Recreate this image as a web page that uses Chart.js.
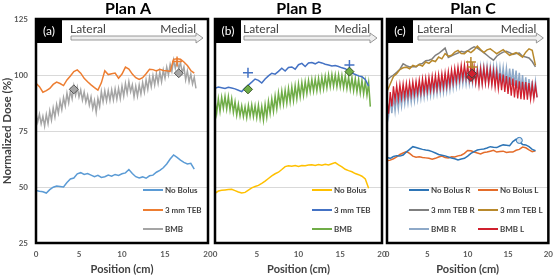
<!DOCTYPE html>
<html>
<head>
<meta charset="utf-8">
<script src="https://cdn.jsdelivr.net/npm/chart.js@4"></script>
<style>
  html, body { margin: 0; padding: 0; background: #fff; }
  #wrap { position: relative; width: 560px; height: 276px; }
  #wrap canvas { position: absolute; left: 0; top: 0; }
</style>
</head>
<body>
<div id="wrap">
  <canvas id="chartA" width="560" height="276"></canvas>
  <canvas id="chartB" width="560" height="276"></canvas>
  <canvas id="chartC" width="560" height="276"></canvas>
</div>
<script>
// positions (cm)
const pos04 = [0,0.4,0.8,1.2,1.6,2,2.4,2.8,3.2,3.6,4,4.4,4.8,5.2,5.6,6,6.4,6.8,7.2,7.6,8,8.4,8.8,9.2,9.6,10,10.4,10.8,11.2,11.6,12,12.4,12.8,13.2,13.6,14,14.4,14.8,15.2,15.6,16,16.4,16.8,17.2,17.6,18,18.4];
const pos02 = [0,0.2,0.4,0.6,0.8,1,1.2,1.4,1.6,1.8,2,2.2,2.4,2.6,2.8,3,3.2,3.4,3.6,3.8,4,4.2,4.4,4.6,4.8,5,5.2,5.4,5.6,5.8,6,6.2,6.4,6.6,6.8,7,7.2,7.4,7.6,7.8,8,8.2,8.4,8.6,8.8,9,9.2,9.4,9.6,9.8,10,10.2,10.4,10.6,10.8,11,11.2,11.4,11.6,11.8,12,12.2,12.4,12.6,12.8,13,13.2,13.4,13.6,13.8,14,14.2,14.4,14.6,14.8,15,15.2,15.4,15.6,15.8,16,16.2,16.4,16.6,16.8,17,17.2,17.4,17.6,17.8,18,18.2,18.4,18.6];
const xTicks = [0, 5, 10, 15, 20];
const yTicks = [25, 50, 75, 100, 125];

// Plan A
const aNoBolus = [48.4,48.1,47.9,47.3,48.8,49.9,50.4,50.2,50.0,52.0,53.6,54.0,55.9,56.4,55.6,56.0,55.3,54.6,55.2,54.3,54.6,55.3,54.8,55.6,55.2,55.9,56.3,57.8,56.0,54.6,54.0,54.5,53.9,55.0,55.3,56.6,57.4,58.6,60.3,62.5,64.3,63.2,62.0,61.0,60.3,60.6,58.0];
const aTeb = [96.3,94.8,92.3,93.0,94.0,95.8,96.8,96.2,95.3,97.8,99.6,101.5,102.3,100.8,98.5,97.0,95.6,94.4,93.3,96.5,101.9,100.2,100.6,100.9,98.6,100.4,103.5,102.6,100.4,98.8,98.0,98.8,100.6,102.6,102.4,101.8,102.5,102.0,101.9,101.6,107.0,107.3,107.0,105.8,104.2,102.0,100.8];
const aBmb = [82.9,79.0,82.5,78.2,81.6,77.2,82.4,78.3,84.0,79.9,85.3,81.2,86.8,83.0,88.4,84.6,89.9,86.2,91.8,87.6,93.0,89.4,95.0,91.0,94.6,90.2,93.3,88.8,92.4,87.9,91.0,86.6,90.2,85.0,88.6,83.4,89.5,86.0,92.6,88.1,92.9,88.4,93.0,88.6,93.4,88.9,93.8,89.2,94.0,89.5,95.0,90.6,96.2,91.8,97.0,92.6,95.6,90.3,95.0,90.6,95.6,91.5,96.6,92.4,97.8,93.6,99.0,94.8,99.8,95.6,100.6,96.3,101.4,97.0,102.2,98.6,103.5,100.0,104.8,101.6,106.7,103.0,106.4,102.8,105.6,101.0,103.6,97.8,101.8,97.0,100.4,96.0,99.0,94.0];
const aDiamondX = [4.4, 16.6], aDiamondY = [93.6, 100.8];
const aCrossX = [16.4], aCrossY = [106.0];

// Plan B
const bNoBolus = [47.2,48.2,48.5,48.7,48.9,49.0,48.4,47.8,47.3,47.6,48.6,49.6,50.2,50.7,51.6,52.6,53.8,55.0,55.9,56.6,57.8,59.1,59.5,59.3,59.6,59.2,59.6,59.5,59.8,59.9,59.6,60.0,59.7,60.1,59.8,60.4,60.9,59.9,59.0,57.9,57.3,56.8,56.0,55.5,54.8,53.6,49.4];
const bTeb = [94.1,94.6,94.3,94.0,94.5,94.2,93.8,93.2,92.6,94.2,95.5,96.8,98.2,97.6,96.4,98.2,99.6,100.8,100.4,101.6,103.0,101.8,103.4,103.6,102.6,104.6,105.2,103.8,105.4,105.6,105.0,105.8,105.4,104.8,104.5,104.0,104.2,103.8,103.2,102.8,101.8,101.0,100.2,99.6,99.2,98.0,95.0];
const bBmb = [88.8,82.9,89.4,83.8,90.0,85.1,90.4,84.8,90.3,84.4,89.4,83.3,88.0,82.1,86.9,81.8,86.2,81.4,85.8,81.0,86.4,81.6,86.6,81.4,86.2,81.0,86.5,80.6,85.9,79.9,86.8,81.2,88.2,82.9,89.4,83.8,90.6,85.0,92.0,86.6,92.8,87.0,93.2,87.5,94.0,88.1,94.6,88.6,95.2,89.4,96.0,90.3,96.6,90.9,97.0,91.8,97.6,92.6,98.0,92.8,98.2,93.0,98.5,93.3,99.0,93.8,99.4,94.3,100.0,94.8,100.2,95.0,100.0,94.8,100.1,94.8,99.8,94.4,99.6,94.0,99.0,93.6,98.8,93.0,98.4,92.6,98.0,92.0,97.6,91.6,97.2,91.0,96.4,85.9];
const bDiamondX = [3.95, 16.1], bDiamondY = [93.6, 101.5];
const bCrossX = [3.95, 16.1], bCrossY = [101.0, 104.5];

// Plan C
const cNoBolusR = [63.2,62.8,63.6,64.0,63.8,64.3,65.6,66.8,68.0,67.6,67.2,66.8,66.5,66.3,65.8,65.2,64.5,64.2,63.9,63.4,62.9,62.6,62.1,62.5,62.8,63.8,65.0,65.8,66.5,66.8,67.0,67.4,68.0,67.7,67.6,68.3,68.8,68.6,68.4,70.3,71.3,70.2,69.0,68.8,68.0,66.8,66.2];
const cNoBolusL = [61.7,62.0,62.6,63.5,64.5,65.2,65.8,65.0,63.8,63.3,63.5,63.2,63.0,62.8,62.4,62.8,63.4,63.8,63.2,63.0,63.5,63.4,63.9,64.2,65.0,66.3,66.2,65.6,65.2,64.8,65.4,65.6,66.0,66.4,65.6,65.8,66.0,65.4,65.6,65.6,66.4,66.8,67.8,67.5,66.6,65.8,66.2];
const cTebR = [97.8,99.0,100.0,101.2,102.6,105.0,104.2,103.6,103.8,103.6,104.8,105.2,106.4,106.6,107.2,108.8,109.6,110.8,112.0,107.8,108.6,109.2,109.8,110.6,110.2,110.8,111.8,112.6,112.0,111.0,110.0,108.8,107.6,106.6,108.4,109.4,110.2,110.6,110.0,109.2,109.6,109.8,108.4,108.0,107.6,106.0,103.6];
const cTebL = [92.6,96.0,99.4,100.6,102.4,103.2,103.5,102.8,104.3,103.8,104.6,104.0,105.8,105.2,106.5,106.0,108.0,107.2,109.5,108.4,108.8,110.2,111.0,109.6,109.5,110.8,110.0,111.2,112.9,111.4,110.0,111.2,111.7,110.6,109.5,110.4,111.3,110.0,108.8,109.4,110.0,109.0,108.0,110.2,111.7,111.0,104.3];
const cBmbR = [88.5,82.0,89.8,83.0,90.6,84.0,91.2,85.0,92.0,86.2,93.0,87.2,93.4,87.6,93.8,88.0,94.4,88.6,95.0,89.2,95.6,89.8,96.1,90.2,96.4,90.6,96.8,91.0,97.2,91.4,97.6,91.8,98.0,92.2,98.5,92.5,99.0,93.0,99.6,93.6,100.2,94.4,100.8,95.0,101.4,95.6,102.1,96.1,102.0,96.0,102.0,96.2,102.2,96.4,102.6,96.6,103.0,96.8,103.6,96.9,103.6,97.0,103.8,97.0,103.6,96.9,103.6,96.9,103.6,96.8,103.4,96.6,103.2,96.2,103.0,95.8,102.9,95.6,102.8,95.2,102.0,94.0,101.0,92.8,100.0,92.0,99.0,91.0,98.2,90.4,97.4,89.6,96.9,90.0];
const cBmbL = [89.0,82.7,92.4,86.0,95.0,88.7,95.4,89.2,95.8,89.8,96.1,90.2,96.3,90.6,96.6,91.0,97.0,91.4,97.2,91.8,97.8,92.0,98.4,92.4,98.6,92.8,99.0,93.2,99.5,93.5,99.8,93.8,100.2,94.2,100.6,94.6,101.0,95.0,101.6,95.6,102.4,96.5,103.0,97.2,103.6,97.8,104.3,98.4,104.6,98.6,104.4,98.0,104.3,97.6,103.4,96.4,102.2,95.4,102.6,95.8,103.0,96.2,102.8,96.0,102.4,95.4,101.8,94.6,101.3,93.9,100.8,93.2,100.2,92.4,99.5,91.5,99.0,90.8,98.4,90.0,97.6,89.5,97.2,89.2,97.0,89.0,96.9,89.0,96.4,89.3,95.8,89.5,95.4,90.0];
const cDiamondX = [10.4, 10.55], cDiamondY = [99.1, 100.6];
const cCrossX = [10.4, 10.6], cCrossY = [105.8, 103.6];
const cCircleX = [16.4], cCircleY = [70.8];

const pts = (xs, ys) => ys.map((y, i) => ({ x: xs[i], y: y }));

function line(label, xs, ys, color, order, width) {
  return { label, data: pts(xs, ys), borderColor: color, backgroundColor: color,
           borderWidth: width || 1.5, pointRadius: 0, tension: 0, order };
}

function mark(xs, ys, style, fill, stroke, r) {
  return { marker: true, data: pts(xs, ys), showLine: false, pointStyle: style,
           pointRadius: r, pointBackgroundColor: fill, pointBorderColor: stroke,
           pointBorderWidth: style === 'cross' ? 1.5 : 1, order: 0 };
}

// frame, tag box, lateral/medial arrow, title and legend
const panelDecor = {
  id: 'panelDecor',
  afterDatasetsDraw(chart, args, o) {
    const { ctx, chartArea: a } = chart;
    ctx.save();

    const items = chart.data.datasets.filter(d => !d.marker);
    ctx.font = 'bold 8px Lato';
    ctx.textAlign = 'left';
    ctx.textBaseline = 'middle';
    items.forEach((d, i) => {
      const x = a.left + o.legend[i][0], y = a.top + o.legend[i][1];
      ctx.strokeStyle = d.borderColor;
      ctx.lineWidth = 2;
      ctx.beginPath();
      ctx.moveTo(x, y);
      ctx.lineTo(x + 20, y);
      ctx.stroke();
      ctx.fillStyle = '#404040';
      ctx.fillText(d.label, x + 22, y + 0.5);
    });

    ctx.lineWidth = 2.5;
    ctx.strokeStyle = '#000';
    ctx.strokeRect(a.left, a.top, a.right - a.left, a.bottom - a.top);

    ctx.fillStyle = '#000';
    ctx.fillRect(a.left, a.top, 26, 24);
    ctx.fillStyle = '#fff';
    ctx.font = '12px Lato';
    ctx.textAlign = 'center';
    ctx.fillText(o.tag, a.left + 13, a.top + 12);

    const x0 = a.left + o.latOff + 1, x1 = a.right - 12, x2 = a.right - 5, yc = a.top + 19;
    ctx.beginPath();
    ctx.moveTo(x0, yc - 2);
    ctx.lineTo(x1, yc - 2);
    ctx.lineTo(x1, yc - 5);
    ctx.lineTo(x2, yc);
    ctx.lineTo(x1, yc + 5);
    ctx.lineTo(x1, yc + 2);
    ctx.lineTo(x0, yc + 2);
    ctx.closePath();
    ctx.fillStyle = '#eeeeee';
    ctx.fill();
    ctx.strokeStyle = '#808080';
    ctx.lineWidth = 0.8;
    ctx.stroke();

    ctx.fillStyle = '#404040';
    ctx.font = '12px Lato';
    ctx.textBaseline = 'alphabetic';
    ctx.textAlign = 'left';
    ctx.fillText('Lateral', a.left + o.latOff, a.top + 14);
    ctx.textAlign = 'right';
    ctx.fillText('Medial', a.right - 12, a.top + 14);

    ctx.font = 'bold 16px Lato';
    ctx.fillStyle = '#000';
    ctx.textAlign = 'center';
    ctx.fillText(o.title, o.titleX, 14);
    ctx.restore();
  }
};

function panel(id, datasets, p) {
  const tickFont = { family: 'Lato', size: 8, weight: 'bold' };
  new Chart(document.getElementById(id), {
    type: 'line',
    data: { datasets },
    plugins: [panelDecor],
    options: {
      responsive: false,
      animation: false,
      layout: { padding: { left: p.padLeft, right: 560 - p.right, top: 19, bottom: 0 } },
      plugins: {
        legend: { display: false },
        tooltip: { enabled: false },
        panelDecor: p.decor
      },
      scales: {
        x: {
          type: 'linear', min: 0, max: 20,
          afterBuildTicks: s => { s.ticks = xTicks.map(v => ({ value: v })); },
          afterFit: s => { s.height = 33; },
          grid: { display: false, drawTicks: false },
          border: { display: false },
          ticks: { font: tickFont, color: '#595959', padding: 7, maxRotation: 0 },
          title: { display: true, text: 'Position (cm)', color: '#404040',
                   font: { family: 'Lato', size: 11, weight: 'bold' }, padding: 0 }
        },
        y: {
          min: 25, max: 125,
          afterBuildTicks: s => { s.ticks = yTicks.map(v => ({ value: v })); },
          afterFit: s => { s.width = p.yWidth; },
          grid: { color: '#d9d9d9', drawTicks: false },
          border: { display: false },
          ticks: { display: p.yLabels, font: tickFont, color: '#595959', padding: 8 },
          title: { display: p.yLabels, text: 'Normalized Dose (%)', color: '#404040',
                   font: { family: 'Lato', size: 11.5, weight: 'bold' }, padding: 0 }
        }
      }
    }
  });
}

panel('chartA', [
  line('No Bolus', pos04, aNoBolus, '#5b9bd5', 3),
  line('3 mm TEB', pos04, aTeb, '#ed7d31', 1),
  line('BMB', pos02, aBmb, '#a5a5a5', 2),
  mark(aDiamondX, aDiamondY, 'rectRot', '#a5a5a5', '#595959', 4.5),
  mark(aCrossX, aCrossY, 'cross', '#ed7d31', '#ed7d31', 5)
], { padLeft: 0, right: 208, yWidth: 36, yLabels: true,
     decor: { tag: '(a)', title: 'Plan A', titleX: 128, latOff: 34,
              legend: [[107, 171], [107, 191], [107, 210]] } });

panel('chartB', [
  line('No Bolus', pos04, bNoBolus, '#ffc000', 3),
  line('3 mm TEB', pos04, bTeb, '#4472c4', 1),
  line('BMB', pos02, bBmb, '#70ad47', 2),
  mark(bDiamondX, bDiamondY, 'rectRot', '#70ad47', '#375623', 4.5),
  mark(bCrossX, bCrossY, 'cross', '#4472c4', '#4472c4', 5)
], { padLeft: 215, right: 382, yWidth: 0, yLabels: false,
     decor: { tag: '(b)', title: 'Plan B', titleX: 299, latOff: 28,
              legend: [[97, 171], [97, 191], [97, 210]] } });

panel('chartC', [
  line('No Bolus R', pos04, cNoBolusR, '#2e75b6', 5),
  line('No Bolus L', pos04, cNoBolusL, '#e46c2a', 6),
  line('3 mm TEB R', pos04, cTebR, '#7f7f7f', 4),
  line('3 mm TEB L', pos04, cTebL, '#b8892c', 3),
  line('BMB R', pos02, cBmbR, '#8ea9c8', 2),
  line('BMB L', pos02, cBmbL, '#d0202e', 1, 1.3),
  mark(cDiamondX, cDiamondY, 'rectRot', '#d0202e', '#404040', 4.5),
  mark(cCrossX, cCrossY, 'cross', '#7f7f7f', '#b8892c', 5),
  mark(cCircleX, cCircleY, 'circle', '#dce8f4', '#2e75b6', 3)
], { padLeft: 387, right: 555, yWidth: 0, yLabels: false,
     decor: { tag: '(c)', title: 'Plan C', titleX: 473, latOff: 30,
              legend: [[22, 171], [91, 171], [22, 191], [91, 191], [22, 210], [91, 210]] } });
</script>
</body>
</html>
